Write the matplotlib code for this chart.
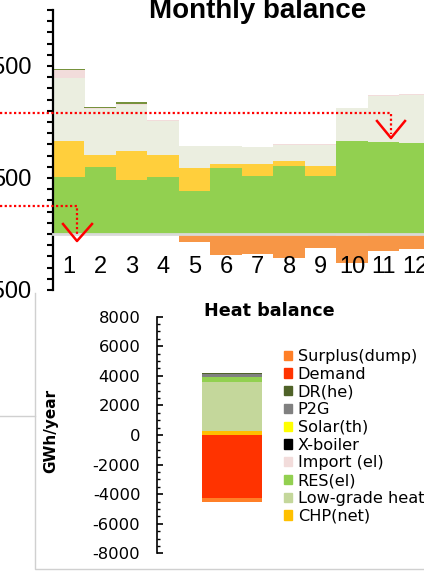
'''
Monthly balance (stepped stacked bars) plus a single stacked heat balance bar.
'''
import numpy as np
import matplotlib.pyplot as plt
from matplotlib.patches import Patch
from matplotlib.ticker import MultipleLocator

plt.rcParams['font.family'] = ['Liberation Sans', 'DejaVu Sans']
plt.rcParams['axes.unicode_minus'] = False

W, H = 424, 576  # figure size in pixels

# monthly balance, GWh
months = np.arange(1, 13)
res_el = [505, 595, 485, 505, 387, 586, 518, 610, 518, 833, 824, 809]
chp = [328, 113, 259, 203, 199, 42, 110, 45, 92, 0, 0, 0]
low_grade = [560, 408, 411, 304, 196, 154, 145, 140, 185, 288, 411, 435]
imp_el = [71, 12, 8, 6, 8, 6, 6, 6, 6, 6, 6, 6]
dr_he = [9, 9, 13, 0, 0, 0, 0, 0, 0, 0, 0, 0]
chp_neg = [0, 0, 0, 0, 0, 0, 0, 0, 0, -15, 0, 0]
surplus = [-5, -5, -5, -10, -75, -188, -179, -212, -125, -241, -155, -134]

# yearly heat balance, GWh/year (bottom of stack first)
heat_labels = ['CHP(net)', 'Low-grade heat', 'RES(el)', 'Import (el)', 'X-boiler',
               'Solar(th)', 'P2G', 'DR(he)', 'Demand', 'Surplus(dump)']
heat_vals = [270, 3334, 338, 0, 0, 0, 170, 60, -4240, -310]
heat_colors = ['#FFC000', '#C4D79B', '#92D050', '#F2DCDB', '#000000',
               '#FFFF00', '#808080', '#4F6228', '#FF3300', '#FF7F27']

fig = plt.figure(figsize=(W / 100, H / 100), dpi=100)

def box(l, t, r, b):
    # pixel box -> figure fraction rect
    return [l / W, 1 - b / H, (r - l) / W, (b - t) / H]

# ---- monthly balance ----
ax = fig.add_axes(box(53, 10, 431, 290))
pos = np.zeros(12)
for vals, col in [(res_el, '#92D050'), (chp, '#FFCF3C'), (low_grade, '#EBEEE0'),
                  (imp_el, '#F2DCDB'), (dr_he, '#76923C')]:
    ax.bar(months, vals, width=1.0, bottom=pos, color=col, linewidth=0)
    pos = pos + np.array(vals)
neg = np.zeros(12)
for vals, col in [(chp_neg, '#FFCF3C'), (surplus, '#F79646')]:
    ax.bar(months, vals, width=1.0, bottom=neg, color=col, linewidth=0)
    neg = neg + np.array(vals)

ax.set_xlim(0.5, 12.5)
ax.set_ylim(-500, 2000)
ax.spines['top'].set_visible(False)
ax.spines['right'].set_visible(False)
ax.spines['bottom'].set_position(('data', 0))
ax.spines['bottom'].set_color('#D9D9D9')
ax.spines['bottom'].set_linewidth(2)
ax.spines['left'].set_linewidth(1.6)
ax.set_yticks([-500, 500, 1500])
ax.yaxis.set_minor_locator(MultipleLocator(100))
ax.tick_params(axis='y', which='both', direction='out', length=4.5, width=1.5,
               labelsize=17, pad=11)
ax.set_xticks(months)
ax.tick_params(axis='x', length=0, labelsize=17, pad=16)
ax.set_facecolor('none')
fig.text(258 / W, 1 - 18 / H, 'Monthly balance', ha='center', va='baseline',
         fontsize=20, fontweight='bold')

# ---- heat balance (wider lettering, DejaVu) ----
dv = 'DejaVu Sans'
hx = fig.add_axes(box(157, 316.7, 307, 553.3))
up, down = 0, 0
for v, col in zip(heat_vals, heat_colors):
    if v >= 0:
        hx.bar(0.5, v, width=0.4, bottom=up, color=col, linewidth=0)
        up += v
    else:
        hx.bar(0.5, v, width=0.4, bottom=down, color=col, linewidth=0)
        down += v
hx.set_xlim(0, 1)
hx.set_ylim(-8000, 8000)
for s in ['top', 'right', 'bottom']:
    hx.spines[s].set_visible(False)
hx.spines['left'].set_linewidth(1.2)
hx.set_xticks([])
hx.set_yticks(np.arange(-8000, 8001, 2000))
hx.yaxis.set_minor_locator(MultipleLocator(500))
hx.tick_params(axis='y', which='major', direction='in', length=4, width=1.2,
               labelsize=11.8, pad=12)
hx.tick_params(axis='y', which='minor', direction='in', length=2.5, width=1)
for t in hx.get_yticklabels():
    t.set_family(dv)
hx.set_facecolor('none')
fig.text(204 / W, 1 - 316 / H, 'Heat balance', ha='left', va='baseline',
         fontsize=12.7, fontweight='bold', family=dv)
fig.text(51 / W, 1 - 431 / H, 'GWh/year', rotation=90, ha='center', va='center',
         fontsize=11, fontweight='bold', family=dv)

handles = [Patch(color=c, label=l) for l, c in zip(heat_labels, heat_colors)][::-1]
fig.legend(handles=handles, loc='upper left', bbox_to_anchor=(284 / W, 1 - 349 / H),
           frameon=False, prop={'family': dv, 'size': 11.6}, borderpad=0,
           borderaxespad=0, handlelength=0.52, handleheight=0.52,
           handletextpad=0.33, labelspacing=0.17)

# ---- overlay: red pointers and panel border ----
ov = fig.add_axes([0, 0, 1, 1], zorder=10)
ov.set_xlim(0, W)
ov.set_ylim(H, 0)
ov.axis('off')
ov.plot([0, 391, 391], [113, 113, 134], color='red', lw=1.6, ls=(0, (1, 1.1)))
ov.plot([377, 391, 405], [121, 138, 121], color='red', lw=1.8)
ov.plot([0, 77, 77], [206, 206, 236], color='red', lw=1.6, ls=(0, (1, 1.1)))
ov.plot([63, 77, 92], [224, 241, 224], color='red', lw=1.8)
ov.plot([35, 35, 424], [293, 569, 569], color='#D0D0D0', lw=1)
ov.plot([0, 35], [416, 416], color='#D0D0D0', lw=1)

fig.savefig('out.png', dpi=100)
